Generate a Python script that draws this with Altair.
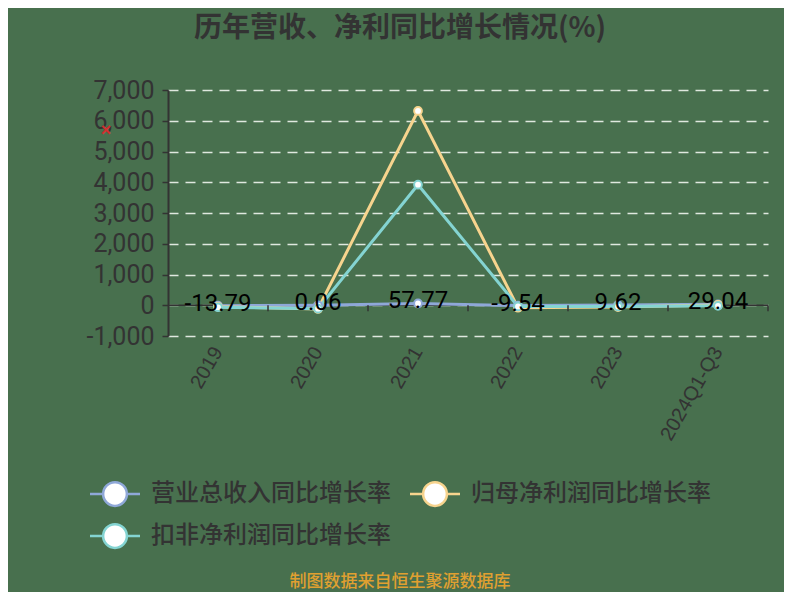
import altair as alt
import pandas as pd

categories = ["2019", "2020", "2021", "2022", "2023", "2024Q1-Q3"]
series_names = ["营业总收入同比增长率", "归母净利润同比增长率", "扣非净利润同比增长率"]
revenue = [-13.79, 0.06, 57.77, -9.54, 9.62, 29.04]
net_profit = [-45, -120, 6320, -80, -60, 10]
deducted_profit = [-65, -110, 3920, -40, -40, -20]
colors = ["#8fa8d8", "#f7d48e", "#84d4d2"]

rows = []
for name, vals in zip(series_names, [revenue, net_profit, deducted_profit]):
    for c, v in zip(categories, vals):
        rows.append({"cat": c, "series": name, "value": v})
df = pd.DataFrame(rows)
df_rev = pd.DataFrame({"cat": categories, "value": revenue,
                       "label": [f"{v:.2f}" for v in revenue]})
y_ticks = [-1000, 0, 1000, 2000, 3000, 4000, 5000, 6000, 7000]

BG = "#48704e"
TXT = "#333333"
NUMFONT = "Roboto"

xscale = alt.Scale(type="band", domain=categories, paddingInner=0, paddingOuter=0)
yscale = alt.Scale(domain=[-1000, 7000], nice=False)

color_scale = alt.Scale(domain=series_names, range=colors)

yaxis = alt.Axis(title=None, values=y_ticks, tickCount=20, format=",.0f",
                 labelExpr="replace(format(datum.value, ',.0f'), '\u2212', '-')",
                 labelFontSize=25, labelColor=TXT, labelFont=NUMFONT,
                 labelOverlap=False, labelBaseline="middle",
                 domainColor="#333333", domainWidth=2, tickColor="#333333",
                 tickSize=6, tickWidth=1.5, labelPadding=8,
                 grid=True, gridColor="#dfe8df", gridDash=[10, 7], gridWidth=1.5)

base = alt.Chart(df)

lines = base.mark_line(strokeWidth=3).encode(
    x=alt.X("cat:N", scale=xscale, bandPosition=0.5, sort=categories,
            axis=alt.Axis(title=None, domain=False, ticks=False, grid=False,
                          labelAngle=300, labelFontSize=20, labelColor=TXT,
                          labelFont="Liberation Sans", labelPadding=12)),
    y=alt.Y("value:Q", scale=yscale, axis=yaxis),
    color=alt.Color("series:N", scale=color_scale, sort=series_names,
                    legend=alt.Legend(title=None, orient="none", legendX=-67, legendY=390,
                                      columns=2, direction="horizontal",
                                      symbolType="M-2,0 L-0.95,0 M0.95,0 L2,0 M0.95,0 A0.95,0.95 0 1 1 -0.95,0 A0.95,0.95 0 1 1 0.95,0",
                                      symbolSize=625, symbolStrokeWidth=2.5,
                                      symbolFillColor="white", symbolOpacity=1,
                                      labelFont="Noto Sans CJK SC", labelFontSize=24,
                                      labelFontWeight=500,
                                      labelColor=TXT, labelOffset=22,
                                      columnPadding=14, rowPadding=8, labelLimit=400)),
    detail="series:N",
)

points = base.mark_point(filled=True, fill="white", size=60, strokeWidth=2, opacity=1).encode(
    x=alt.X("cat:N", scale=xscale, bandPosition=0.5, sort=categories),
    y=alt.Y("value:Q", scale=yscale, axis=yaxis),
    stroke=alt.Stroke("series:N", scale=color_scale, legend=None),
)

zero_rule = alt.Chart(pd.DataFrame({"v": [0]})).mark_rule(color="#333333", strokeWidth=1.5).encode(
    y=alt.Y("v:Q", scale=yscale, axis=yaxis),
    x=alt.value(0), x2=alt.value(600),
)

zero_ticks = alt.Chart(pd.DataFrame({"cat": categories, "v": [0] * 6})).mark_rule(
    color="#333333", strokeWidth=1.5, y2Offset=6).encode(
    x=alt.X("cat:N", scale=xscale, bandPosition=1, sort=categories),
    y=alt.Y("v:Q", scale=yscale, axis=yaxis),
    y2=alt.Y2("v:Q"),
)

labels = alt.Chart(df_rev).mark_text(fontSize=24, font=NUMFONT, color="#000000",
                                     baseline="middle", dy=-2).encode(
    x=alt.X("cat:N", scale=xscale, bandPosition=0.5, sort=categories),
    y=alt.Y("value:Q", scale=yscale, axis=yaxis),
    text="label:N",
)

footer = alt.Chart(pd.DataFrame({"t": ["制图数据来自恒生聚源数据库"]})).mark_text(
    fontSize=17, font="Noto Sans CJK SC", fontWeight=500, color="#e0a030", baseline="middle").encode(
    x=alt.value(232), y=alt.value(492), text="t:N")

redx = alt.Chart(pd.DataFrame({"t": ["×"]})).mark_text(
    fontSize=18, fontWeight="bold", color="#d03030", baseline="middle").encode(
    x=alt.value(-62), y=alt.value(41), text="t:N")

chart = alt.layer(zero_rule, lines, points, zero_ticks, labels, footer, redx).properties(
    width=600, height=246,
    autosize=alt.AutoSizeParams(type="none"),
    padding={"left": 160, "top": 82, "right": 16, "bottom": 256},
    background=BG,
    title=alt.TitleParams("历年营收、净利同比增长情况(%)", fontSize=28, fontWeight="bold",
                          color=TXT, font="Noto Sans CJK SC", anchor="middle", dx=-68, offset=35),
).configure_view(stroke=None).resolve_scale(color="shared")

chart.save("out.html", embed_options={"renderer": "svg", "actions": False})
